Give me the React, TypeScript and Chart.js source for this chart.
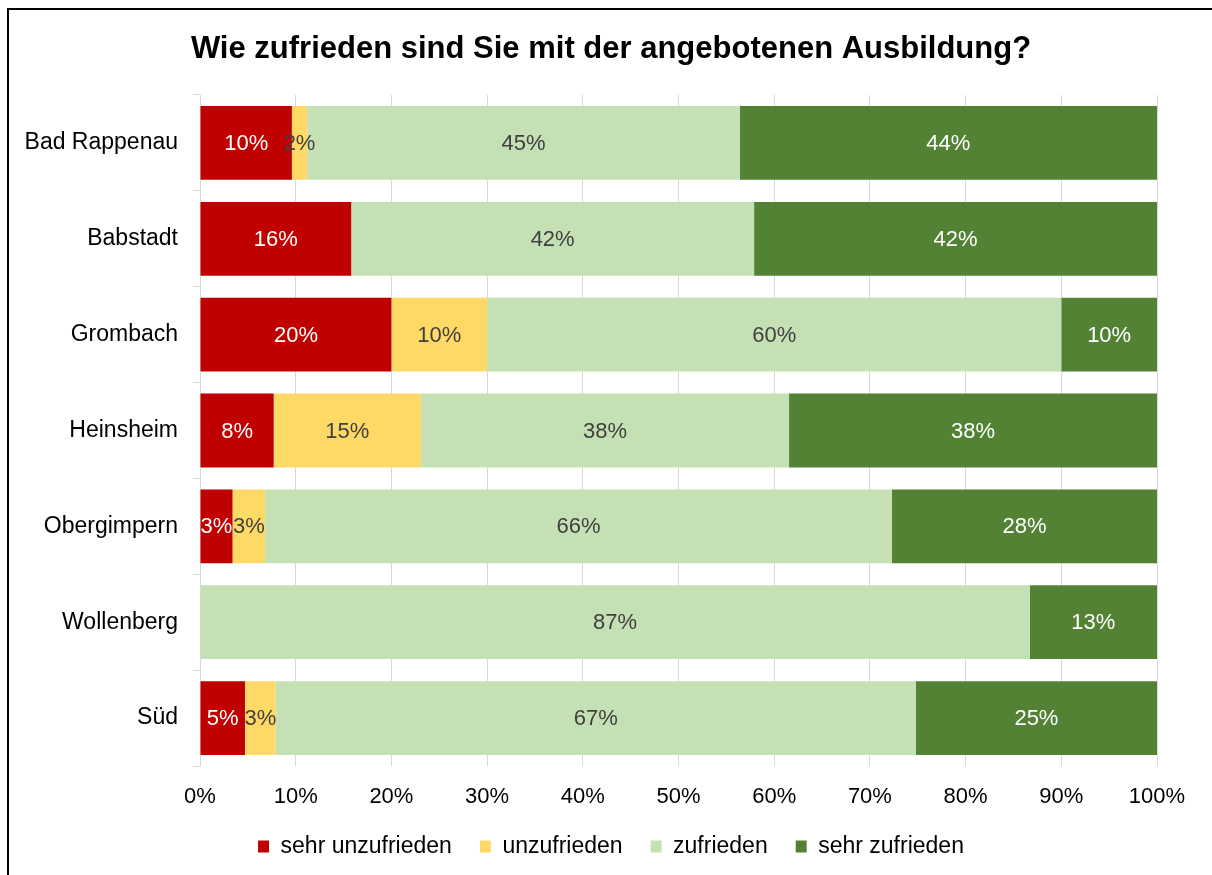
import React, { useEffect, useRef } from "react";
import { Chart, registerables } from "chart.js";

Chart.register(...registerables);

const chartTitle = "Wie zufrieden sind Sie mit der angebotenen Ausbildung?";
const categories = ["Bad Rappenau", "Babstadt", "Grombach", "Heinsheim", "Obergimpern", "Wollenberg", "Süd"];
const seriesNames = ["sehr unzufrieden", "unzufrieden", "zufrieden", "sehr zufrieden"];
const sehrUnzufrieden = [9.6, 15.8, 20.0, 7.7, 3.4, 0, 4.7];
const unzufrieden = [1.6, 0, 10.0, 15.4, 3.4, 0, 3.2];
const zufrieden = [45.2, 42.1, 60.0, 38.45, 65.5, 86.7, 66.9];
const sehrZufrieden = [43.6, 42.1, 10.0, 38.45, 27.7, 13.3, 25.2];
const xTickValues = [0, 10, 20, 30, 40, 50, 60, 70, 80, 90, 100];

const barColors = ["#C00000", "#FFD966", "#C5E0B4", "#548235"];
const labelColors = ["#FFFFFF", "#404040", "#404040", "#FFFFFF"];
const FONT = '"Liberation Sans", Arial, Helvetica, sans-serif';

const segLabelPlugin = {
  id: "segLabels",
  afterDatasetsDraw(chart: any) {
    const ctx = chart.ctx;
    ctx.save();
    ctx.font = `22px ${FONT}`;
    ctx.textAlign = "center";
    ctx.textBaseline = "middle";
    chart.data.datasets.forEach((ds: any, di: number) => {
      const meta = chart.getDatasetMeta(di);
      meta.data.forEach((el: any, i: number) => {
        const v = ds.data[i];
        if (!v) return;
        const p = el.getProps(["x", "y", "base"], true);
        ctx.fillStyle = labelColors[di];
        ctx.fillText(Math.round(v) + "%", (p.x + p.base) / 2, p.y + 1);
      });
    });
    ctx.restore();
  },
};

export default function App() {
  const ref = useRef<HTMLCanvasElement | null>(null);

  useEffect(() => {
    if (!ref.current) return;
    const seriesData = [sehrUnzufrieden, unzufrieden, zufrieden, sehrZufrieden];
    const chart = new Chart(ref.current, {
      type: "bar",
      data: {
        labels: categories,
        datasets: seriesNames.map((name, i) => ({
          label: name,
          data: seriesData[i],
          backgroundColor: barColors[i],
          borderWidth: 0,
          categoryPercentage: 1,
          barPercentage: 0.77,
          xAxisID: "x",
          yAxisID: "y",
        })),
      },
      options: {
        indexAxis: "y",
        responsive: false,
        animation: false,
        layout: { padding: { left: 10, right: 0, top: 0, bottom: 7 } },
        font: { family: FONT },
        color: "#000",
        scales: {
          x: {
            stacked: true,
            min: 0,
            max: 100,
            afterBuildTicks: (scale: any) => {
              scale.ticks = xTickValues.map((v) => ({ value: v }));
            },
            afterFit: (scale: any) => {
              scale.height = 41;
            },
            ticks: {
              color: "#000",
              font: { family: FONT, size: 22 },
              padding: 18,
              callback: (v: any) => v + "%",
              maxRotation: 0,
            },
            grid: { color: "#D9D9D9", lineWidth: 1, drawTicks: false },
            border: { display: false },
          },
          y: {
            stacked: true,
            afterFit: (scale: any) => {
              scale.width = 190;
            },
            ticks: {
              color: "#000",
              font: { family: FONT, size: 23 },
              padding: 15,
            },
            grid: {
              offset: true,
              drawOnChartArea: false,
              drawTicks: true,
              tickLength: 7,
              color: "#D9D9D9",
            },
            border: { display: true, color: "#D9D9D9" },
          },
          yRight: {
            type: "linear",
            position: "right",
            display: true,
            afterFit: (scale: any) => {
              scale.width = 55;
            },
            ticks: { display: false },
            grid: { display: false, drawTicks: false },
            border: { display: false },
          },
        },
        plugins: {
          title: {
            display: true,
            text: chartTitle,
            color: "#000",
            font: { family: FONT, size: 31, weight: "bold" },
            padding: { top: 31, bottom: 26.8 },
          },
          legend: {
            display: true,
            position: "bottom",
            labels: {
              color: "#000",
              font: { family: FONT, size: 23 },
              boxWidth: 11,
              boxHeight: 12,
              padding: 28,
            },
          },
          tooltip: { enabled: false },
        },
      },
      plugins: [segLabelPlugin],
    } as any);
    return () => chart.destroy();
  }, []);

  return (
    <div
      style={{
        position: "fixed",
        left: 0,
        top: 0,
        width: 1212,
        height: 875,
        overflow: "hidden",
        background: "#fff",
      }}
    >
      <div
        style={{
          position: "absolute",
          left: 7,
          top: 8,
          width: 1300,
          height: 1000,
          borderLeft: "2px solid #000",
          borderTop: "2px solid #000",
        }}
      />
      <canvas
        ref={ref}
        width={1212}
        height={875}
        style={{ position: "absolute", left: 0, top: 0, display: "block" }}
      />
    </div>
  );
}
